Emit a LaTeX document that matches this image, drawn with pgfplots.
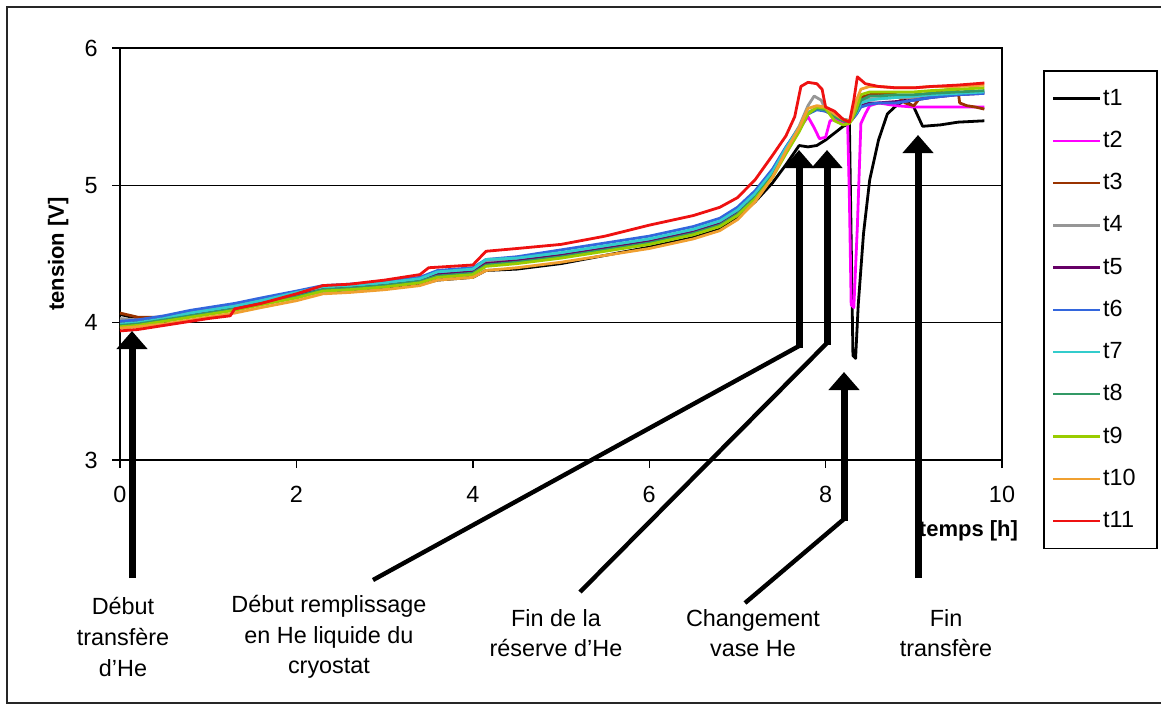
\documentclass[border=0pt]{standalone}
\usepackage{fontspec}
\setmainfont{Liberation Sans}
\usepackage{pgfplots}
\pgfplotsset{compat=1.18}
\usetikzlibrary{arrows.meta}
\definecolor{cT1}{HTML}{000000}
\definecolor{cT2}{HTML}{FF00FF}
\definecolor{cT3}{HTML}{993300}
\definecolor{cT4}{HTML}{969696}
\definecolor{cT5}{HTML}{660066}
\definecolor{cT6}{HTML}{3366DD}
\definecolor{cT7}{HTML}{33CCCC}
\definecolor{cT8}{HTML}{339966}
\definecolor{cT9}{HTML}{99CC00}
\definecolor{cT10}{HTML}{F0A030}
\definecolor{cT11}{HTML}{EE1111}
\newcommand{\annot}{\fontsize{11.7}{15.3}\selectfont}
\begin{document}
\begin{tikzpicture}
\useasboundingbox (0,0) rectangle (580.5pt,354.5pt);
\begin{scope}[x=0.5pt,y=-0.5pt,shift={(0pt,354.5pt)}]
\draw[line width=1pt,black!85] (1175,7) -- (7,7) -- (7,703) -- (1175,703);
\end{scope}
\begin{axis}[
  at={(60pt,124.5pt)}, anchor=south west,
  scale only axis, width=441pt, height=206pt,
  xmin=0, xmax=10, ymin=3, ymax=6,
  xtick={0,2,4,6,8,10}, ytick={3,4,5,6},
  tick pos=left, tick align=outside, major tick length=4pt,
  tick style={black, line width=0.7pt},
  axis line style={black, line width=0.75pt},
  ymajorgrids, grid style={black, line width=0.75pt},
  /pgf/number format/assume math mode=true,
  tick label style={font=\fontsize{11.7}{14}\selectfont},
  yticklabel style={inner sep=0pt, xshift=-7pt},
  xticklabel style={inner sep=0pt, yshift=-9pt},
  ylabel={\bfseries tension [V]},
  ylabel style={at={(axis description cs:-0.07,0.5)}, anchor=center, font=\fontsize{11}{13}\selectfont},
  xlabel={\bfseries temps [h]},
  xlabel style={at={(axis description cs:0.962,-0.172)}, anchor=center, font=\fontsize{11}{13}\selectfont},
  clip=false,
  every axis plot/.append style={line width=1.4pt, line join=round},
  legend style={at={(axis description cs:1.0465,0.946)}, anchor=north west,
    draw=black, line width=0.8pt, fill=white,
    font=\fontsize{11.7}{14}\selectfont,
    cells={anchor=west}, inner xsep=4pt, inner ysep=8pt,
    nodes={inner sep=1pt, text depth=0.15em}, row sep=9.5pt},
  legend image code/.code={\draw[#1, line width=1.2pt] (0pt,0pt) -- (23.5pt,0pt);},
]
\addplot[cT1] coordinates {(0,4.06)(0.2,4.03)(0.5,4.04)(0.8,4.06)(1.0,4.08)(1.3,4.10)(1.6,4.14)(2.0,4.19)(2.3,4.23)(2.6,4.24)(3.0,4.26)(3.4,4.28)(3.6,4.31)(4.0,4.33)(4.15,4.38)(4.5,4.39)(5.0,4.43)(5.5,4.49)(6.0,4.55)(6.5,4.62)(6.8,4.68)(7.0,4.77)(7.2,4.88)(7.4,5.02)(7.55,5.15)(7.7,5.29)(7.8,5.28)(7.9,5.29)(8.0,5.33)(8.1,5.38)(8.2,5.43)(8.27,5.45)(8.29,4.6)(8.31,3.76)(8.34,3.74)(8.37,4.13)(8.43,4.65)(8.5,5.04)(8.6,5.33)(8.7,5.52)(8.8,5.58)(8.9,5.62)(9.0,5.57)(9.05,5.50)(9.1,5.43)(9.3,5.44)(9.5,5.46)(9.8,5.47)};
\addlegendentry{\makebox[22pt][l]{t1}}
\addplot[cT2] coordinates {(0,4.02)(0.2,4.02)(0.5,4.04)(0.8,4.07)(1.0,4.09)(1.3,4.12)(1.6,4.16)(2.0,4.21)(2.3,4.26)(2.6,4.27)(3.0,4.29)(3.4,4.32)(3.6,4.36)(4.0,4.38)(4.15,4.44)(4.5,4.46)(5.0,4.50)(5.5,4.55)(6.0,4.60)(6.5,4.67)(6.8,4.73)(7.0,4.81)(7.2,4.93)(7.4,5.09)(7.55,5.26)(7.7,5.41)(7.8,5.50)(7.87,5.42)(7.93,5.34)(8.0,5.35)(8.05,5.47)(8.1,5.48)(8.2,5.46)(8.25,5.45)(8.27,4.9)(8.29,4.13)(8.32,4.11)(8.36,4.7)(8.4,5.45)(8.45,5.52)(8.5,5.58)(8.6,5.60)(8.8,5.58)(9.0,5.57)(9.5,5.57)(9.8,5.57)};
\addlegendentry{t2}
\addplot[cT3] coordinates {(0,4.07)(0.2,4.04)(0.5,4.04)(0.8,4.07)(1.0,4.09)(1.3,4.12)(1.6,4.15)(2.0,4.21)(2.3,4.26)(2.6,4.27)(3.0,4.29)(3.4,4.32)(3.6,4.36)(4.0,4.38)(4.15,4.43)(4.5,4.45)(5.0,4.50)(5.5,4.55)(6.0,4.60)(6.5,4.67)(6.8,4.73)(7.0,4.81)(7.2,4.93)(7.4,5.10)(7.55,5.27)(7.7,5.42)(7.8,5.53)(7.9,5.56)(8.0,5.54)(8.1,5.51)(8.2,5.47)(8.27,5.46)(8.3,5.48)(8.35,5.56)(8.4,5.64)(8.5,5.66)(8.6,5.67)(8.8,5.66)(8.9,5.60)(9.0,5.58)(9.1,5.66)(9.3,5.69)(9.45,5.70)(9.5,5.70)(9.52,5.60)(9.6,5.58)(9.7,5.57)(9.8,5.555)};
\addlegendentry{t3}
\addplot[cT4] coordinates {(0,4.03)(0.2,4.02)(0.5,4.04)(0.8,4.07)(1.0,4.09)(1.3,4.12)(1.6,4.16)(2.0,4.21)(2.3,4.26)(2.6,4.27)(3.0,4.29)(3.4,4.32)(3.6,4.36)(4.0,4.38)(4.15,4.44)(4.5,4.46)(5.0,4.50)(5.5,4.55)(6.0,4.60)(6.5,4.67)(6.8,4.73)(7.0,4.81)(7.2,4.94)(7.4,5.10)(7.55,5.27)(7.7,5.43)(7.8,5.58)(7.87,5.65)(7.95,5.62)(8.0,5.55)(8.1,5.52)(8.2,5.48)(8.27,5.47)(8.3,5.49)(8.35,5.54)(8.4,5.61)(8.5,5.63)(8.6,5.63)(8.8,5.64)(9.0,5.64)(9.2,5.65)(9.5,5.67)(9.8,5.68)};
\addlegendentry{t4}
\addplot[cT5] coordinates {(0,4.00)(0.2,4.01)(0.5,4.03)(0.8,4.06)(1.0,4.08)(1.3,4.11)(1.6,4.15)(2.0,4.20)(2.3,4.25)(2.6,4.26)(3.0,4.28)(3.4,4.31)(3.6,4.35)(4.0,4.37)(4.15,4.43)(4.5,4.45)(5.0,4.49)(5.5,4.54)(6.0,4.59)(6.5,4.66)(6.8,4.72)(7.0,4.80)(7.2,4.92)(7.4,5.08)(7.55,5.25)(7.7,5.40)(7.8,5.52)(7.9,5.56)(8.0,5.55)(8.1,5.52)(8.2,5.48)(8.27,5.47)(8.3,5.48)(8.35,5.52)(8.4,5.58)(8.5,5.60)(8.6,5.60)(8.8,5.61)(9.0,5.62)(9.2,5.64)(9.5,5.66)(9.8,5.67)};
\addlegendentry{t5}
\addplot[cT6] coordinates {(0,4.01)(0.2,4.02)(0.5,4.05)(0.8,4.09)(1.0,4.11)(1.3,4.14)(1.6,4.18)(2.0,4.23)(2.3,4.27)(2.6,4.28)(3.0,4.30)(3.4,4.33)(3.6,4.38)(4.0,4.40)(4.15,4.46)(4.5,4.48)(5.0,4.53)(5.5,4.58)(6.0,4.63)(6.5,4.70)(6.8,4.76)(7.0,4.84)(7.2,4.96)(7.4,5.12)(7.55,5.28)(7.7,5.42)(7.8,5.52)(7.9,5.55)(8.0,5.54)(8.1,5.51)(8.2,5.48)(8.27,5.47)(8.3,5.48)(8.35,5.52)(8.4,5.57)(8.5,5.59)(8.6,5.60)(8.8,5.60)(9.0,5.62)(9.2,5.64)(9.5,5.66)(9.8,5.67)};
\addlegendentry{t6}
\addplot[cT7] coordinates {(0,3.99)(0.2,4.00)(0.5,4.03)(0.8,4.07)(1.0,4.09)(1.3,4.12)(1.6,4.16)(2.0,4.22)(2.3,4.26)(2.6,4.27)(3.0,4.29)(3.4,4.32)(3.6,4.37)(4.0,4.39)(4.15,4.46)(4.5,4.47)(5.0,4.51)(5.5,4.56)(6.0,4.61)(6.5,4.68)(6.8,4.74)(7.0,4.82)(7.2,4.94)(7.4,5.10)(7.55,5.27)(7.7,5.42)(7.8,5.53)(7.9,5.56)(8.0,5.55)(8.1,5.52)(8.2,5.48)(8.27,5.47)(8.3,5.49)(8.35,5.53)(8.4,5.60)(8.5,5.62)(8.6,5.63)(8.8,5.64)(9.0,5.65)(9.2,5.66)(9.5,5.67)(9.8,5.68)};
\addlegendentry{t7}
\addplot[cT8] coordinates {(0,3.98)(0.2,3.99)(0.5,4.02)(0.8,4.05)(1.0,4.07)(1.3,4.10)(1.6,4.14)(2.0,4.19)(2.3,4.24)(2.6,4.25)(3.0,4.27)(3.4,4.30)(3.6,4.34)(4.0,4.36)(4.15,4.42)(4.5,4.44)(5.0,4.48)(5.5,4.53)(6.0,4.58)(6.5,4.65)(6.8,4.71)(7.0,4.79)(7.2,4.91)(7.4,5.07)(7.55,5.24)(7.7,5.40)(7.8,5.52)(7.9,5.56)(8.0,5.55)(8.1,5.50)(8.2,5.47)(8.27,5.46)(8.3,5.48)(8.35,5.54)(8.4,5.62)(8.5,5.65)(8.6,5.65)(8.8,5.66)(9.0,5.66)(9.2,5.67)(9.5,5.68)(9.8,5.69)};
\addlegendentry{t8}
\addplot[cT9] coordinates {(0,3.97)(0.2,3.98)(0.5,4.01)(0.8,4.04)(1.0,4.06)(1.3,4.09)(1.6,4.13)(2.0,4.18)(2.3,4.23)(2.6,4.24)(3.0,4.26)(3.4,4.29)(3.6,4.33)(4.0,4.35)(4.15,4.41)(4.5,4.43)(5.0,4.47)(5.5,4.52)(6.0,4.57)(6.5,4.64)(6.8,4.70)(7.0,4.78)(7.2,4.90)(7.4,5.06)(7.55,5.23)(7.7,5.39)(7.8,5.52)(7.9,5.57)(8.0,5.56)(8.1,5.47)(8.2,5.44)(8.27,5.45)(8.3,5.48)(8.35,5.56)(8.4,5.66)(8.5,5.68)(8.6,5.68)(8.8,5.68)(9.0,5.68)(9.2,5.69)(9.5,5.70)(9.8,5.71)};
\addlegendentry{t9}
\addplot[cT10] coordinates {(0,3.96)(0.2,3.97)(0.5,3.99)(0.8,4.02)(1.0,4.04)(1.3,4.07)(1.6,4.11)(2.0,4.16)(2.3,4.21)(2.6,4.22)(3.0,4.24)(3.4,4.27)(3.6,4.31)(4.0,4.33)(4.15,4.38)(4.5,4.40)(5.0,4.44)(5.5,4.49)(6.0,4.54)(6.5,4.61)(6.8,4.67)(7.0,4.75)(7.2,4.88)(7.4,5.06)(7.55,5.25)(7.7,5.42)(7.8,5.56)(7.9,5.58)(8.0,5.57)(8.1,5.52)(8.2,5.48)(8.27,5.47)(8.3,5.50)(8.35,5.62)(8.4,5.70)(8.5,5.72)(8.6,5.72)(8.8,5.71)(9.0,5.71)(9.2,5.72)(9.5,5.72)(9.8,5.73)};
\addlegendentry{t10}
\addplot[cT11] coordinates {(0,3.94)(0.2,3.95)(0.5,3.98)(0.8,4.01)(1.0,4.03)(1.25,4.05)(1.3,4.10)(1.6,4.14)(2.0,4.21)(2.3,4.27)(2.6,4.28)(3.0,4.31)(3.4,4.35)(3.5,4.40)(4.0,4.42)(4.15,4.52)(4.5,4.54)(5.0,4.57)(5.5,4.63)(6.0,4.71)(6.5,4.78)(6.8,4.84)(7.0,4.91)(7.2,5.04)(7.4,5.22)(7.55,5.36)(7.65,5.50)(7.72,5.72)(7.8,5.75)(7.9,5.74)(7.96,5.70)(8.0,5.57)(8.1,5.54)(8.2,5.48)(8.27,5.46)(8.32,5.62)(8.36,5.79)(8.45,5.74)(8.6,5.72)(8.8,5.71)(9.0,5.71)(9.2,5.72)(9.5,5.73)(9.8,5.745)};
\addlegendentry{t11}
\end{axis}
\begin{scope}[x=0.5pt,y=-0.5pt,shift={(0pt,354.5pt)}]
\tikzset{shaft/.style={line width=3.5pt, -{Triangle[length=9pt,width=15pt]}},
         lead/.style={line width=2.2pt}}
\draw[shaft] (132,578) -- (132,331);
\draw[lead] (373,580) -- (799,346);
\draw[shaft] (799,348) -- (799,150);
\draw[lead] (580,592) -- (827,343);
\draw[shaft] (827,345) -- (827,150);
\draw[lead] (745,603) -- (844,519);
\draw[shaft] (844,521) -- (844,372);
\draw[shaft] (918,578) -- (918,135);
\node[align=center,font=\annot] at (123,637) {Début\\transfère\\d'He};
\node[align=center,font=\annot] at (329,637) {Début remplissage\\en He liquide du\\cryostat};
\node[align=center,font=\annot] at (556,633) {Fin de la\\réserve d'He};
\node[align=center,font=\annot] at (753,633) {Changement\\vase He};
\node[align=center,font=\annot] at (946,633) {Fin\\transfère};
\end{scope}
\end{tikzpicture}
\end{document}
